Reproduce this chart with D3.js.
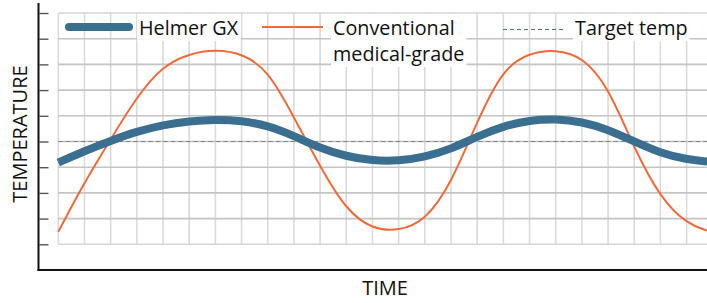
<!DOCTYPE html>
<html>
<head>
<meta charset="utf-8">
<script src="https://cdn.jsdelivr.net/npm/d3@7"></script>
<style>
    body { margin: 0; background: #fff; }
    svg { display: block; }
    text { font-family: "Open Sans", sans-serif; fill: #111; }
</style>
</head>
<body>
<div id="chart"></div>
<script>
// time in grid columns, temperature in grid rows
const timeSteps = [0, 1, 2, 3, 4, 5, 6, 7, 8, 9, 10, 11, 12, 13, 14, 15, 16, 17, 18, 19, 20, 21, 22, 23, 24, 24.8];
const helmerGX = [3.18, 3.63, 4.03, 4.39, 4.65, 4.79, 4.86, 4.81, 4.62, 4.22, 3.74, 3.42, 3.25, 3.24, 3.40, 3.70, 4.20, 4.60, 4.83, 4.88, 4.77, 4.47, 4.00, 3.55, 3.30, 3.22];
const conventional = [0.49, 2.42, 4.08, 5.75, 6.95, 7.42, 7.58, 7.44, 6.80, 4.95, 3.02, 1.32, 0.58, 0.52, 0.90, 2.33, 4.80, 6.86, 7.45, 7.58, 7.32, 6.16, 3.72, 1.80, 0.80, 0.53];
const targetTemp = 4;
const gridCols = d3.range(0, 25);
const gridRows = d3.range(0, 10);

const width = 707;
const height = 303;
const blue = "#3b6f8f";
const orange = "#ef6a3b";

const svg = d3.select("#chart").append("svg")
    .attr("width", width)
    .attr("height", height);

const x = d3.scaleLinear().domain([0, 24]).range([58.3, 686.6]);
const y = d3.scaleLinear().domain([0, 9]).range([244.3, 13]);

// grid
svg.append("g")
    .selectAll("line")
    .data(gridCols)
    .enter()
    .append("line")
    .attr("x1", d => x(d))
    .attr("x2", d => x(d))
    .attr("y1", y(9))
    .attr("y2", y(0))
    .attr("stroke", "#dadada")
    .attr("stroke-width", 1.6);

svg.append("g")
    .selectAll("line")
    .data(gridRows)
    .enter()
    .append("line")
    .attr("x1", x(0))
    .attr("x2", width)
    .attr("y1", d => y(d))
    .attr("y2", d => y(d))
    .attr("stroke", d => (d === 0 || d === 9 ? "#d4d4d4" : "#c4c4c4"))
    .attr("stroke-width", 1.6);

// axes
svg.append("g")
    .attr("transform", "translate(39.5,0)")
    .call(d3.axisRight(y).tickValues(gridRows).tickSize(9).tickFormat(""))
    .call(g => g.select(".domain").remove())
    .call(g => g.selectAll(".tick line").attr("stroke", "#555").attr("stroke-width", 1.4));

svg.append("line")
    .attr("x1", 38.5).attr("x2", 38.5)
    .attr("y1", 3).attr("y2", 271)
    .attr("stroke", "#111")
    .attr("stroke-width", 2);

svg.append("line")
    .attr("x1", 37.5).attr("x2", width)
    .attr("y1", 270).attr("y2", 270)
    .attr("stroke", "#111")
    .attr("stroke-width", 2);

// target line
svg.append("line")
    .attr("x1", x(0)).attr("x2", width)
    .attr("y1", y(targetTemp)).attr("y2", y(targetTemp))
    .attr("stroke", "#858585")
    .attr("stroke-width", 1.2)
    .attr("stroke-dasharray", "4.5,3");

// series
const line = values => d3.line()
    .x((d, i) => x(timeSteps[i]))
    .y(d => y(d))
    .curve(d3.curveBasis)(values);

svg.append("path")
    .attr("d", line(conventional))
    .attr("fill", "none")
    .attr("stroke", orange)
    .attr("stroke-width", 2);

svg.append("path")
    .attr("d", line(helmerGX))
    .attr("fill", "none")
    .attr("stroke", blue)
    .attr("stroke-width", 8);

// legend
const legend = svg.append("g");

const addLabel = (lines, lx, ly) => {
    const t = legend.append("text")
        .attr("x", lx)
        .attr("y", ly)
        .style("font-size", "19.8px");
    lines.forEach((s, i) => {
        t.append("tspan").attr("x", lx).attr("dy", i === 0 ? 0 : 26).text(s);
    });
    const b = t.node().getBBox();
    legend.insert("rect", "text")
        .attr("x", b.x - 2)
        .attr("y", b.y)
        .attr("width", b.width + 4)
        .attr("height", b.height)
        .attr("fill", "#fff");
};

legend.append("line")
    .attr("x1", 69).attr("x2", 129)
    .attr("y1", 27).attr("y2", 27)
    .attr("stroke", blue)
    .attr("stroke-width", 8)
    .attr("stroke-linecap", "round");
addLabel(["Helmer GX"], 139, 35);

legend.append("line")
    .attr("x1", 262).attr("x2", 323)
    .attr("y1", 27).attr("y2", 27)
    .attr("stroke", orange)
    .attr("stroke-width", 1.8);
addLabel(["Conventional", "medical-grade"], 333, 35);

legend.append("line")
    .attr("x1", 503).attr("x2", 565)
    .attr("y1", 29.5).attr("y2", 29.5)
    .attr("stroke", "#5a7384")
    .attr("stroke-width", 1.2)
    .attr("stroke-dasharray", "4,3");
addLabel(["Target temp"], 575, 35);

// axis titles
svg.append("text")
    .attr("transform", "translate(27,134) rotate(-90)")
    .attr("text-anchor", "middle")
    .style("font-size", "20px")
    .text("TEMPERATURE");

svg.append("text")
    .attr("x", 385)
    .attr("y", 295)
    .attr("text-anchor", "middle")
    .style("font-size", "20px")
    .text("TIME");
</script>
</body>
</html>
